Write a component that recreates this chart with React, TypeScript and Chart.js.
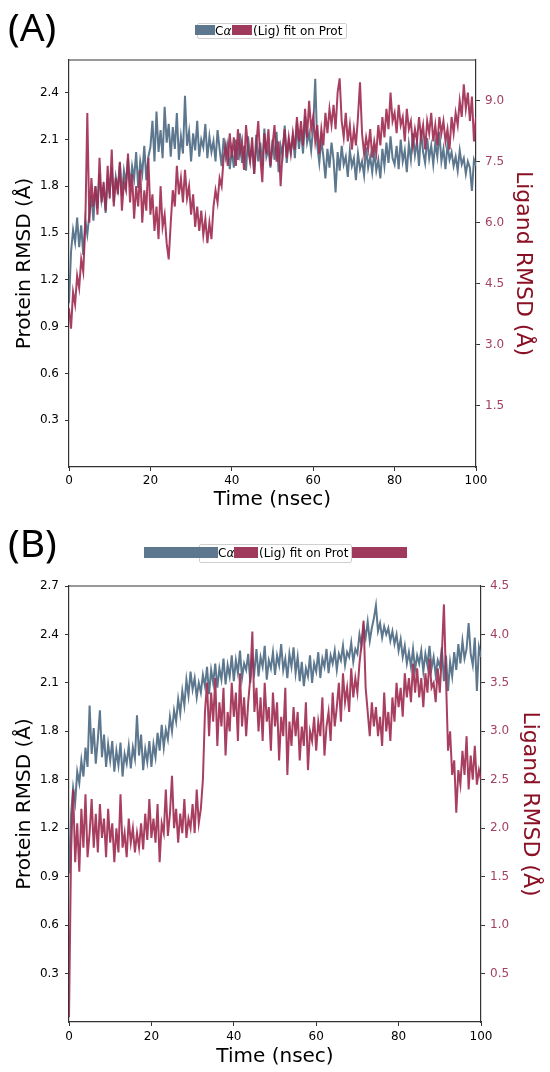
import React, { useEffect, useRef } from 'react';
import { Chart, registerables } from 'chart.js';

Chart.register(...registerables);
Chart.defaults.font.family = "'DejaVu Sans', sans-serif";

// sampling interval of the traces (ns)
const STEP_NS = 0.5;
const timeTicks = [0, 20, 40, 60, 80, 100];

// (A) Protein C-alpha RMSD (left axis, Å)
const proteinA = [
  1.05, 1.38, 1.52, 1.44, 1.60, 1.41, 1.55, 1.36, 1.58, 1.49,
  1.62, 1.74, 1.58, 1.80, 1.66, 1.88, 1.71, 1.79, 1.63, 1.84,
  1.76, 1.92, 1.70, 1.86, 1.78, 1.95, 1.74, 1.90, 1.82, 1.98,
  1.80, 1.93, 1.85, 2.02, 1.79, 1.96, 1.88, 2.06, 1.84, 1.99,
  2.05, 2.22, 1.96, 2.28, 2.02, 2.16, 1.98, 2.31, 2.08, 2.20,
  1.99, 2.18, 2.04, 2.27, 1.97, 2.12, 2.01, 2.38, 2.06, 2.15,
  1.96, 2.14, 2.03, 2.22, 1.99, 2.10, 2.05, 2.20, 1.98, 2.12,
  2.02, 2.09, 1.96, 2.16, 2.04, 1.93, 2.11, 1.99, 2.07, 1.91,
  2.03, 1.92, 2.10, 1.97, 2.14, 1.95, 2.06, 1.90, 2.12, 1.98,
  2.05, 1.88, 2.13, 1.96, 2.08, 1.93, 2.17, 1.99, 2.04, 1.92,
  2.10, 1.97, 2.15, 1.89, 2.06, 2.00, 2.19, 1.95, 2.09, 2.02,
  2.12, 1.98, 2.21, 2.04, 2.16, 2.01, 2.25, 2.08, 2.14, 2.03,
  2.18, 2.49, 2.06, 1.95, 2.10, 1.99, 1.85, 2.04, 1.92, 2.08,
  1.97, 1.76, 2.02, 1.90, 2.06, 1.94, 1.99, 1.86, 2.03, 1.93,
  1.98, 1.84, 2.01, 1.91, 1.96, 1.87, 2.05, 1.92, 1.99, 1.89,
  2.02, 1.90, 1.97, 1.85, 2.04, 1.93, 2.08, 1.95, 2.12, 1.98,
  1.94, 2.06, 1.91, 2.10, 1.96, 2.03, 1.89, 2.07, 1.97, 2.14,
  2.00, 2.09, 1.93, 2.16, 2.02, 1.95, 2.11, 1.98, 2.06, 1.94,
  2.08, 1.99, 2.15, 1.96, 2.04, 1.91, 2.07, 1.97, 2.02, 1.93,
  1.99, 1.90, 2.03, 1.94, 1.98, 1.88, 1.96, 1.92, 1.77, 1.97, 1.93,
];

// (A) Ligand fit on protein RMSD (right axis, Å)
const ligandA = [
  3.9, 3.4, 4.3, 4.0, 4.7, 4.4, 5.1, 4.8, 5.9, 8.7,
  6.0, 7.1, 6.4, 6.9, 6.2, 7.6, 6.5, 7.0, 6.3, 7.4,
  6.6, 7.8, 6.4, 7.1, 6.7, 7.5, 6.3, 7.0, 6.8, 7.7,
  6.5, 7.2, 6.1, 6.9, 6.4, 7.3, 6.0, 6.8, 6.3, 7.6,
  6.2, 6.7, 5.8, 6.4, 5.6, 6.9, 5.9, 6.2, 5.5, 5.1,
  6.0, 6.8, 6.4, 7.4, 6.7, 7.1, 6.5, 7.3, 6.6, 6.9,
  6.2, 6.7, 5.9, 6.4, 5.8, 6.3, 5.7, 6.1, 5.5, 6.0,
  5.6, 6.4, 6.8, 6.5, 7.1, 6.9, 7.6, 7.9, 7.4, 8.2,
  7.6, 8.1, 7.4, 8.3, 7.7, 8.0, 7.3, 8.4, 7.8, 7.5,
  8.1, 7.2, 7.9, 8.5, 7.6, 7.0, 8.2, 7.7, 8.3, 7.4,
  7.9, 8.4, 7.5, 8.0, 6.9, 7.8, 8.3, 7.6, 8.1, 7.7,
  8.2, 7.8, 8.6, 8.0, 8.5, 7.9, 8.8, 8.1, 9.0, 8.3,
  8.6, 8.0, 8.4, 7.7, 8.3, 7.9, 8.7, 8.2, 8.8, 8.4,
  8.9, 8.3, 9.2, 9.55, 8.5, 8.1, 8.7, 8.0, 8.4, 7.8,
  8.3, 7.9, 8.6, 9.45, 8.2, 7.7, 8.1, 7.8, 8.3, 7.6,
  8.0, 7.7, 8.4, 7.9, 8.6, 8.1, 8.8, 8.3, 9.2, 8.5,
  8.7, 8.2, 8.9, 8.4, 8.6, 8.0, 8.8, 8.3, 8.5, 7.9,
  8.3, 8.0, 8.6, 8.1, 8.4, 7.8, 8.5, 8.2, 8.7, 8.0,
  8.4, 7.9, 8.6, 8.2, 8.5, 8.0, 8.3, 7.8, 8.6, 8.2,
  8.7, 8.4, 9.0, 8.6, 9.4, 8.8, 9.2, 8.5, 9.1, 8.0, 8.6,
];

const proteinTicksA = [0.3, 0.6, 0.9, 1.2, 1.5, 1.8, 2.1, 2.4];
const proteinLabelsA = ['0.3', '0.6', '0.9', '1.2', '1.5', '1.8', '2.1', '2.4'];
const ligandTicksA = [1.5, 3.0, 4.5, 6.0, 7.5, 9.0];
const ligandLabelsA = ['1.5', '3.0', '4.5', '6.0', '7.5', '9.0'];

// (B) Protein C-alpha RMSD (left axis, Å)
const proteinB = [
  0.92, 1.28, 1.45, 1.36, 1.55, 1.48, 1.62, 1.52, 1.70, 1.58,
  1.96, 1.66, 1.82, 1.60, 1.75, 1.93, 1.64, 1.78, 1.58, 1.72,
  1.62, 1.74, 1.55, 1.68, 1.59, 1.73, 1.52, 1.66, 1.60, 1.71,
  1.57, 1.70, 1.63, 1.90, 1.65, 1.78, 1.56, 1.69, 1.61, 1.74,
  1.58, 1.72, 1.64, 1.79, 1.68, 1.84, 1.70, 1.81, 1.75, 1.89,
  1.80, 1.93, 1.86, 2.00, 1.91, 2.05, 1.96, 2.12, 2.02, 2.17,
  2.06, 2.13, 2.01, 2.10, 2.04, 2.15, 2.08, 2.20, 2.03, 2.18,
  2.10, 2.22, 2.07, 2.19, 2.12, 2.25, 2.09, 2.21, 2.14, 2.27,
  2.11, 2.24, 2.16, 2.30, 2.13, 2.22, 2.18, 2.28, 2.10, 2.25,
  2.17, 2.31, 2.14, 2.26, 2.20, 2.33, 2.12, 2.24, 2.19, 2.29,
  2.15, 2.27, 2.21, 2.34, 2.18, 2.25, 2.13, 2.28, 2.20, 2.32,
  2.16, 2.26, 2.11, 2.23, 2.08, 2.19, 2.14, 2.27, 2.10, 2.22,
  2.17, 2.29, 2.13, 2.25, 2.20, 2.31, 2.16, 2.27, 2.22, 2.30,
  2.18, 2.28, 2.24, 2.33, 2.21, 2.29, 2.26, 2.35, 2.23, 2.31,
  2.28, 2.40, 2.33, 2.45, 2.38, 2.48, 2.36, 2.44, 2.50, 2.58,
  2.42, 2.47, 2.38, 2.45, 2.40, 2.44, 2.36, 2.42, 2.34, 2.40,
  2.30, 2.37, 2.26, 2.33, 2.22, 2.29, 2.20, 2.31, 2.18, 2.27,
  2.22, 2.30, 2.17, 2.28, 2.21, 2.33, 2.19, 2.26, 2.15, 2.24,
  2.20, 2.32, 2.11, 2.27, 2.05, 2.23, 2.14, 2.29, 2.18, 2.34,
  2.22, 2.36, 2.25, 2.31, 2.47, 2.28, 2.21, 2.38, 2.05, 2.32, 2.26,
];

// (B) Ligand fit on protein RMSD (right axis, Å)
const ligandB = [
  0.05, 1.75, 2.40, 1.65, 2.05, 1.55, 2.20, 1.80, 2.35, 1.70,
  1.95, 2.30, 1.80, 2.15, 1.75, 2.25, 1.90, 2.10, 1.70, 2.20,
  1.85, 2.05, 1.65, 2.00, 1.75, 2.35, 1.80, 1.95, 1.70, 2.10,
  1.85, 2.00, 1.75, 1.95, 1.80, 2.05, 1.78, 2.15, 1.88, 2.30,
  1.90, 2.10, 1.85, 2.25, 1.65, 2.05, 1.95, 2.40, 1.92, 2.15,
  2.54, 2.00, 2.20, 1.85, 2.15, 1.95, 2.30, 1.90, 2.10, 2.00,
  2.25, 1.95, 2.40, 2.05, 2.20, 2.50, 3.20, 3.50, 2.95, 3.40,
  3.10, 3.55, 2.85, 3.30, 3.05, 3.45, 2.75, 3.20, 3.00, 3.50,
  3.15, 3.40, 2.90, 3.60, 3.05, 3.35, 2.95, 3.30, 3.55, 4.03,
  3.20, 3.45, 3.00, 3.35, 2.90, 3.50, 3.10, 3.25, 2.80, 3.40,
  3.05, 3.30, 2.70, 3.15, 2.95, 3.45, 2.55, 3.10, 2.85, 3.25,
  2.95, 3.20, 2.70, 3.05, 2.85, 3.30, 2.60, 3.00, 2.90, 3.15,
  2.80, 3.10, 2.95, 3.35, 2.75, 3.05, 3.20, 2.90, 3.40, 3.05,
  3.25, 3.50, 3.10, 3.60, 3.30, 3.45, 3.20, 3.65, 3.35, 3.55,
  3.40, 3.70, 3.90, 4.14, 3.45, 3.20, 2.95, 3.30, 3.05, 3.25,
  2.95, 3.15, 2.85, 3.40, 3.00, 3.20, 2.90, 3.35, 3.10, 3.50,
  3.25, 3.45, 3.15, 3.60, 3.35, 3.55, 3.30, 3.70, 3.40, 3.65,
  3.35, 3.55, 3.25, 3.60, 3.40, 3.75, 3.45, 3.50, 3.30, 3.65,
  3.40, 3.80, 4.31, 3.55, 2.80, 3.00, 2.55, 2.70, 2.16, 2.60,
  2.45, 2.80, 2.55, 2.95, 2.40, 2.75, 2.50, 2.85, 2.45, 2.60, 2.50,
];

// tick at 1.5 really is printed as "1.8" in the original figure
const proteinTicksB = [0.3, 0.6, 0.9, 1.2, 1.5, 1.8, 2.1, 2.4, 2.7];
const proteinLabelsB = ['0.3', '0.6', '0.9', '1.2', '1.8', '1.8', '2.1', '2.4', '2.7'];
const ligandTicksB = [0.5, 1.0, 1.5, 2.0, 2.5, 3.0, 3.5, 4.0, 4.5];
const ligandLabelsB = ['0.5', '1.0', '1.5', '2.0', '2.5', '3.0', '3.5', '4.0', '4.5'];

const PROT_COLOR = '#5d788e';
const LIG_COLOR = 'rgba(158, 42, 80, 0.9)';
const LIG_PATCH = '#a03a5c';
const LIG_TICK = '#a3405f';
const LIG_TITLE = '#8a1024';
const AXIS = '#333333';

const topFrame = {
  id: 'topFrame',
  afterDraw(chart: Chart) {
    const { ctx, chartArea } = chart;
    ctx.save();
    ctx.strokeStyle = AXIS;
    ctx.lineWidth = 1.2;
    ctx.beginPath();
    ctx.moveTo(chartArea.left, chartArea.top);
    ctx.lineTo(chartArea.right, chartArea.top);
    ctx.stroke();
    ctx.restore();
  },
};

interface PanelProps {
  protein: number[];
  ligand: number[];
  proteinMax: number;
  ligandMax: number;
  proteinTicks: number[];
  proteinLabels: string[];
  ligandTicks: number[];
  ligandLabels: string[];
  top: number;
  height: number;
  padTop: number;
  padBottom: number;
  xHeight: number;
  xTickPad: number;
  rightWidth: number;
  rightTitlePad: number;
}

const RmsdPanel: React.FC<PanelProps> = (p) => {
  const canvasRef = useRef<HTMLCanvasElement>(null);
  const chartRef = useRef<Chart | null>(null);

  useEffect(() => {
    if (!canvasRef.current) return;
    if (chartRef.current) chartRef.current.destroy();

    const grid = {
      display: true,
      drawOnChartArea: false,
      drawTicks: true,
      tickLength: 4,
      tickColor: AXIS,
      tickWidth: 1,
    };
    const border = { display: true, color: AXIS, width: 1.2 };

    chartRef.current = new Chart(canvasRef.current, {
      type: 'line',
      data: {
        datasets: [
          {
            label: 'Cα',
            data: p.protein.map((y, i) => ({ x: i * STEP_NS, y })),
            borderColor: PROT_COLOR,
            borderWidth: 2,
            pointRadius: 0,
            tension: 0,
            yAxisID: 'y',
            order: 2,
          },
          {
            label: '(Lig) fit on Prot',
            data: p.ligand.map((y, i) => ({ x: i * STEP_NS, y })),
            borderColor: LIG_COLOR,
            borderWidth: 2,
            pointRadius: 0,
            tension: 0,
            yAxisID: 'y1',
            order: 1,
          },
        ],
      },
      options: {
        responsive: true,
        maintainAspectRatio: false,
        animation: false,
        events: [],
        layout: { padding: { top: p.padTop, bottom: p.padBottom, left: 0, right: 0 } },
        plugins: { legend: { display: false }, tooltip: { enabled: false } },
        scales: {
          x: {
            type: 'linear',
            min: 0,
            max: 100,
            afterBuildTicks: (s: any) => {
              s.ticks = timeTicks.map((v) => ({ value: v }));
            },
            afterFit: (s: any) => {
              s.height = p.xHeight;
            },
            ticks: { color: '#000', font: { size: 12 }, padding: p.xTickPad, maxRotation: 0, autoSkip: false },
            grid,
            border,
            title: {
              display: true,
              text: 'Time (nsec)',
              color: '#000',
              font: { size: 20 },
              padding: { top: 0, bottom: 0 },
            },
          },
          y: {
            position: 'left',
            min: 0,
            max: p.proteinMax,
            afterBuildTicks: (s: any) => {
              s.ticks = p.proteinTicks.map((v) => ({ value: v }));
            },
            afterFit: (s: any) => {
              s.width = 69;
            },
            ticks: {
              color: '#000',
              font: { size: 12 },
              padding: 6,
              autoSkip: false,
              callback: (_v: any, i: number) => p.proteinLabels[i],
            },
            grid,
            border,
            title: {
              display: true,
              text: 'Protein RMSD (Å)',
              color: '#000',
              font: { size: 20 },
              padding: { top: 13, bottom: 0 },
            },
          },
          y1: {
            position: 'right',
            min: 0,
            max: p.ligandMax,
            afterBuildTicks: (s: any) => {
              s.ticks = p.ligandTicks.map((v) => ({ value: v }));
            },
            afterFit: (s: any) => {
              s.width = p.rightWidth;
            },
            ticks: {
              color: LIG_TICK,
              font: { size: 12 },
              padding: 5,
              autoSkip: false,
              callback: (_v: any, i: number) => p.ligandLabels[i],
            },
            grid,
            border,
            title: {
              display: true,
              text: 'Ligand RMSD (Å)',
              color: LIG_TITLE,
              font: { size: 22 },
              padding: { top: p.rightTitlePad, bottom: 0 },
            },
          },
        },
      },
      plugins: [topFrame],
    });

    return () => {
      if (chartRef.current) {
        chartRef.current.destroy();
        chartRef.current = null;
      }
    };
  }, [p]);

  return (
    <div style={{ position: 'absolute', left: 0, top: p.top, width: 550, height: p.height }}>
      <canvas ref={canvasRef}></canvas>
    </div>
  );
};

const patch = (left: number, top: number, width: number, height: number, color: string): React.CSSProperties => ({
  position: 'absolute',
  left,
  top,
  width,
  height,
  background: color,
});

const legendText = (left: number, top: number, height: number): React.CSSProperties => ({
  position: 'absolute',
  left,
  top,
  height,
  lineHeight: `${height}px`,
  fontFamily: "'DejaVu Sans', sans-serif",
  fontSize: 12,
  color: '#000',
  whiteSpace: 'nowrap',
});

const panelLabel = (top: number): React.CSSProperties => ({
  position: 'absolute',
  left: 8,
  top,
  fontFamily: "'Noto Sans', sans-serif",
  fontSize: 39,
  lineHeight: '39px',
  color: '#000',
});

const Alpha = () => <span style={{ fontStyle: 'italic' }}>α</span>;

const panelA: PanelProps = {
  protein: proteinA,
  ligand: ligandA,
  proteinMax: 2.61,
  ligandMax: 10.0,
  proteinTicks: proteinTicksA,
  proteinLabels: proteinLabelsA,
  ligandTicks: ligandTicksA,
  ligandLabels: ligandLabelsA,
  top: 0,
  height: 520,
  padTop: 60,
  padBottom: 8,
  xHeight: 45,
  xTickPad: 3,
  rightWidth: 74,
  rightTitlePad: 14,
};

const panelB: PanelProps = {
  protein: proteinB,
  ligand: ligandB,
  proteinMax: 2.7,
  ligandMax: 4.5,
  proteinTicks: proteinTicksB,
  proteinLabels: proteinLabelsB,
  ligandTicks: ligandTicksB,
  ligandLabels: ligandLabelsB,
  top: 520,
  height: 552,
  padTop: 66,
  padBottom: 3,
  xHeight: 47,
  xTickPad: 4,
  rightWidth: 69,
  rightTitlePad: 7,
};

export default function App() {
  return (
    <div style={{ position: 'absolute', left: 0, top: 0, width: 550, height: 1072, background: '#fff', overflow: 'hidden' }}>
      <RmsdPanel {...panelA} />
      <RmsdPanel {...panelB} />

      <div style={panelLabel(6)}>(A)</div>
      <div style={panelLabel(522)}>(B)</div>

      {/* legend (A) */}
      <div style={{ position: 'absolute', left: 197, top: 23, width: 150, height: 16, border: '1px solid #d0d0d0', borderRadius: 2, background: '#fff', boxSizing: 'border-box' }} />
      <div style={patch(195, 25, 20, 10, PROT_COLOR)} />
      <div style={legendText(215, 23, 16)}>C<Alpha /></div>
      <div style={patch(232, 25, 20, 10, LIG_PATCH)} />
      <div style={legendText(253, 23, 16)}>(Lig) fit on Prot</div>

      {/* legend (B) */}
      <div style={{ position: 'absolute', left: 199, top: 544, width: 153, height: 19, border: '1px solid #d0d0d0', borderRadius: 2, background: '#fff', boxSizing: 'border-box' }} />
      <div style={patch(144, 547, 74, 11, PROT_COLOR)} />
      <div style={legendText(218, 544, 19)}>C<Alpha /></div>
      <div style={patch(234, 547, 24, 11, LIG_PATCH)} />
      <div style={legendText(259, 544, 19)}>(Lig) fit on Prot</div>
      <div style={patch(352, 547, 55, 11, LIG_PATCH)} />
    </div>
  );
}
